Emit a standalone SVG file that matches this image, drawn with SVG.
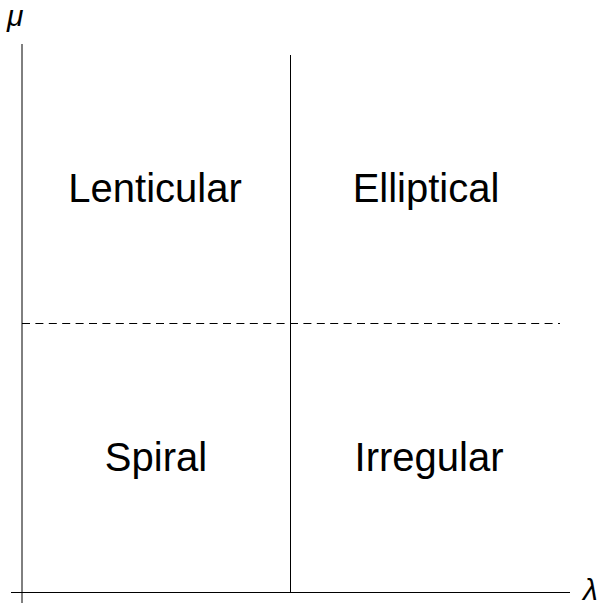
<svg xmlns="http://www.w3.org/2000/svg" width="603" height="606" viewBox="0 0 603 606">
<style>
.ln{stroke:#000;stroke-width:1;fill:none}
.lab{font-family:"Liberation Sans",Arial,sans-serif;font-size:40px;fill:#000;text-anchor:middle}
.ax{font-family:"Liberation Sans",Arial,sans-serif;font-size:30px;font-style:italic;fill:#000}
</style>
<rect width="603" height="606" fill="#fff"/>
<g id="connectors">
<line class="ln" x1="22" y1="44" x2="22" y2="603"/>
<line class="ln" x1="11" y1="592.5" x2="570" y2="592.5"/>
<line class="ln" x1="290.5" y1="55" x2="290.5" y2="592"/>
<line class="ln" x1="22" y1="323.5" x2="560" y2="323.5" stroke-dasharray="8,5.4" stroke="#333"/>
</g>
<g id="mu"><text class="ax" x="7" y="26">μ</text></g>
<g id="lambda"><text class="ax" x="583" y="600">λ</text></g>
<g id="lenticular"><text class="lab" x="155" y="201.5">Lenticular</text></g>
<g id="elliptical"><text class="lab" x="426" y="201.5">Elliptical</text></g>
<g id="spiral"><text class="lab" x="156" y="471">Spiral</text></g>
<g id="irregular"><text class="lab" x="429" y="471">Irregular</text></g>
</svg>
